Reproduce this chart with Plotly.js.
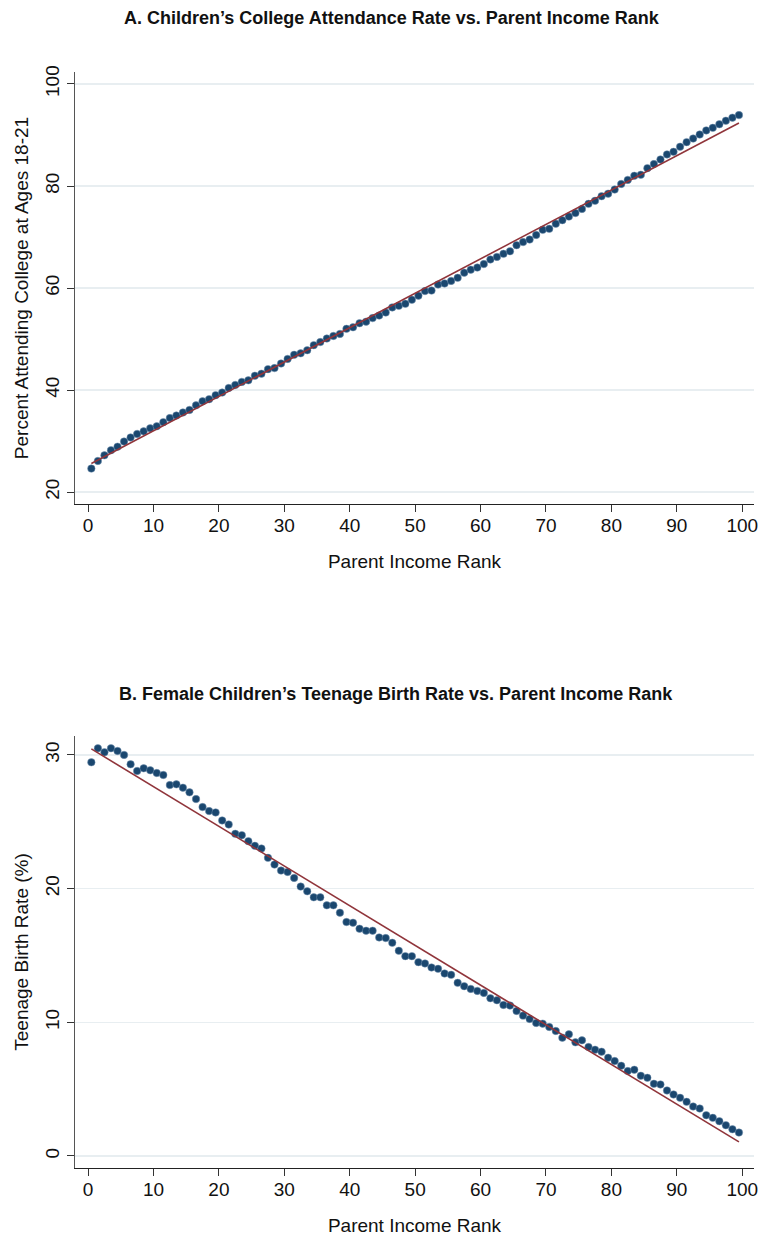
<!DOCTYPE html>
<html>
<head>
<meta charset="utf-8">
<script src="https://cdn.plot.ly/plotly-3.0.1.min.js"></script>
<style>html,body{margin:0;padding:0;background:#fff;}#chart{width:759px;height:1236px;}</style>
</head>
<body>
<div id="chart"></div>
<script>
// Parent income rank (percentile bin midpoints)
const parentRank = [0.5,1.5,2.5,3.5,4.5,5.5,6.5,7.5,8.5,9.5,10.5,11.5,12.5,13.5,14.5,15.5,16.5,17.5,18.5,19.5,
20.5,21.5,22.5,23.5,24.5,25.5,26.5,27.5,28.5,29.5,30.5,31.5,32.5,33.5,34.5,35.5,36.5,37.5,38.5,39.5,
40.5,41.5,42.5,43.5,44.5,45.5,46.5,47.5,48.5,49.5,50.5,51.5,52.5,53.5,54.5,55.5,56.5,57.5,58.5,59.5,
60.5,61.5,62.5,63.5,64.5,65.5,66.5,67.5,68.5,69.5,70.5,71.5,72.5,73.5,74.5,75.5,76.5,77.5,78.5,79.5,
80.5,81.5,82.5,83.5,84.5,85.5,86.5,87.5,88.5,89.5,90.5,91.5,92.5,93.5,94.5,95.5,96.5,97.5,98.5,99.5];

// Panel A: percent attending college at ages 18-21
const collegeRate = [24.6,26.1,27.2,28.2,28.9,29.9,30.7,31.4,31.9,32.5,32.9,33.7,34.5,35.0,35.6,36.1,37.0,37.8,38.2,39.0,
39.5,40.4,41.0,41.6,41.9,42.8,43.2,44.1,44.3,45.2,46.1,46.9,47.2,47.8,48.8,49.4,50.1,50.6,51.0,52.0,
52.3,53.1,53.4,54.1,54.6,55.2,56.2,56.5,56.9,57.7,58.5,59.4,59.5,60.7,60.9,61.4,62.0,63.0,63.6,64.0,
64.7,65.6,66.1,66.7,67.2,68.4,69.0,69.5,70.4,71.4,71.6,72.6,73.3,74.0,74.7,75.5,76.5,77.1,78.0,78.5,
79.3,80.4,81.2,82.0,82.2,83.5,84.3,85.2,86.2,86.7,87.7,88.6,89.3,90.1,90.9,91.4,92.1,92.8,93.4,93.9];

// Panel B: female children's teenage birth rate (%)
const teenBirthRate = [29.45,30.5,30.2,30.5,30.3,30.0,29.3,28.8,29.0,28.85,28.65,28.5,27.75,27.8,27.55,27.2,26.7,26.1,25.8,25.7,
25.1,24.8,24.1,24.0,23.55,23.2,23.0,22.3,21.8,21.35,21.25,20.8,20.15,19.8,19.35,19.35,18.75,18.75,18.2,17.5,
17.45,17.0,16.85,16.85,16.35,16.3,15.95,15.35,14.95,14.95,14.5,14.4,14.1,14.0,13.65,13.55,12.95,12.7,12.5,12.35,
12.2,11.8,11.65,11.3,11.25,10.85,10.5,10.25,9.95,9.9,9.65,9.35,8.85,9.1,8.5,8.65,8.15,7.95,7.8,7.35,
7.1,6.75,6.35,6.45,6.0,5.85,5.4,5.35,4.9,4.6,4.35,4.05,3.7,3.55,3.05,2.85,2.6,2.3,2.0,1.75];

// Linear fit lines (endpoints)
const fitX = [0.5, 99.5];
const fitCollege = [25.6, 92.35];
const fitBirth = [30.45, 1.05];

// Tick labels
const xTicks = [0,10,20,30,40,50,60,70,80,90,100];
const yTicksA = [20,40,60,80,100];
const yTicksB = [0,10,20,30];

const dotColor = '#1a476f';
const lineColor = '#90353b';
const gridColor = '#e8eef1';
const fontFam = '"Liberation Sans", Arial, Helvetica, sans-serif';
const axFont = {family: fontFam, size: 19, color: '#111'};

const markerStyle = {size: 7.5, color: dotColor, line: {width: 0.6, color: 'rgba(120,150,180,0.8)'}};

const traces = [
  {x: parentRank, y: collegeRate, type: 'scatter', mode: 'markers', marker: markerStyle, xaxis: 'x', yaxis: 'y', showlegend: false, name: 'College'},
  {x: fitX, y: fitCollege, type: 'scatter', mode: 'lines', line: {color: lineColor, width: 1.6}, xaxis: 'x', yaxis: 'y', showlegend: false, name: 'Fit'},
  {x: parentRank, y: teenBirthRate, type: 'scatter', mode: 'markers', marker: markerStyle, xaxis: 'x2', yaxis: 'y2', showlegend: false, name: 'Teen birth'},
  {x: fitX, y: fitBirth, type: 'scatter', mode: 'lines', line: {color: lineColor, width: 1.6}, xaxis: 'x2', yaxis: 'y2', showlegend: false, name: 'Fit'}
];

const xCommon = {
  range: [-2, 101.8], tickvals: xTicks, ticktext: xTicks.map(String),
  ticks: 'outside', ticklen: 7, tickwidth: 1, tickcolor: '#333',
  ticklabelstandoff: -3,
  showline: true, linecolor: '#222', linewidth: 1,
  showgrid: false, zeroline: false,
  tickfont: axFont,
  fixedrange: true
};
const yCommon = {
  ticks: 'outside', ticklen: 7, tickwidth: 1, tickcolor: '#333',
  showline: true, linecolor: '#555', linewidth: 1,
  showgrid: true, gridcolor: gridColor, gridwidth: 1.5, zeroline: false,
  tickangle: -90,
  tickfont: axFont,
  fixedrange: true
};

const layout = {
  width: 759, height: 1236,
  margin: {l: 75, r: 5, t: 72, b: 68},
  paper_bgcolor: '#ffffff', plot_bgcolor: '#ffffff',
  font: {family: fontFam, color: '#111'},
  showlegend: false,
  xaxis: Object.assign({}, xCommon, {anchor: 'y', domain: [0, 1],
    title: {text: 'Parent Income Rank', font: axFont, standoff: 19}}),
  yaxis: Object.assign({}, yCommon, {anchor: 'x', domain: [0.6058, 1], range: [17.65, 102.35],
    tickvals: yTicksA, ticktext: yTicksA.map(String),
    title: {text: 'Percent Attending College at Ages 18-21', font: axFont, standoff: 8}}),
  xaxis2: Object.assign({}, xCommon, {anchor: 'y2', domain: [0, 1],
    title: {text: 'Parent Income Rank', font: axFont, standoff: 19}}),
  yaxis2: Object.assign({}, yCommon, {anchor: 'x2', domain: [0, 0.3942], range: [-0.9, 31.42],
    tickvals: yTicksB, ticktext: yTicksB.map(String),
    title: {text: 'Teenage Birth Rate (%)', font: axFont, standoff: 8}}),
  annotations: [
    {text: '<b>A. Children\u2019s College Attendance Rate vs. Parent Income Rank</b>', xref: 'paper', yref: 'paper',
     x: 0.467, y: 1.049, xanchor: 'center', yanchor: 'middle', showarrow: false,
     font: {family: fontFam, size: 18, color: '#111'}},
    {text: '<b>B. Female Children\u2019s Teenage Birth Rate vs. Parent Income Rank</b>', xref: 'paper', yref: 'paper',
     x: 0.473, y: 0.4325, xanchor: 'center', yanchor: 'middle', showarrow: false,
     font: {family: fontFam, size: 18, color: '#111'}}
  ]
};

Plotly.newPlot('chart', traces, layout, {displayModeBar: false, staticPlot: true});
</script>
</body>
</html>
